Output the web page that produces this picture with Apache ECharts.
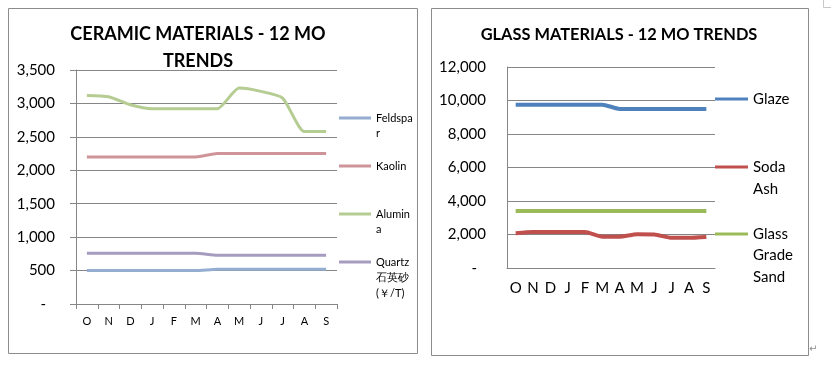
<!DOCTYPE html>
<html><head><meta charset="utf-8">
<script src="https://cdn.jsdelivr.net/npm/echarts@6/dist/echarts.min.js"></script>
<style>html,body{margin:0;padding:0;background:#fff}#c{width:831px;height:371px}</style>
</head><body><div id="c"></div>
<script>
const months = ['O','N','D','J','F','M','A','M','J','J','A','S'];
const ceramicTicks = [0,500,1000,1500,2000,2500,3000,3500];
const glassTicks = [0,2000,4000,6000,8000,10000,12000];
const feldspar = [500,500,500,500,500,500,520,520,520,520,520,520];
const kaolin = [2200,2200,2200,2200,2200,2200,2250,2250,2250,2250,2250,2250];
const alumina = [3120,3100,2980,2920,2920,2920,2920,3230,3180,3080,2580,2580];
const quartz = [760,760,760,760,760,760,730,730,730,730,730,730];
const glaze = [9750,9750,9750,9750,9750,9750,9500,9500,9500,9500,9500,9500];
const sodaAsh = [2080,2150,2150,2150,2150,1870,1870,2010,2000,1800,1800,1850];
const glassSand = [3400,3400,3400,3400,3400,3400,3400,3400,3400,3400,3400,3400];

const FONT = 'Lato';
const AX = '#868686';
const fmt = v => v === 0 ? '{d|-}' : v.toLocaleString('en-US');

function yAxis(idx, ticks, tickShow) {
  return {
    type: 'value', gridIndex: idx, min: ticks[0], max: ticks[ticks.length-1], interval: ticks[1]-ticks[0],
    axisLine: {show: true, lineStyle: {color: AX, width: 1}},
    axisTick: {show: tickShow, length: 6, lineStyle: {color: AX}},
    splitLine: {show: true, lineStyle: {color: AX, width: 1}},
    axisLabel: {margin: 21, color: '#000', fontFamily: FONT, fontSize: 15, formatter: fmt,
      rich: {d: {padding: [0, 9, 0, 0], fontFamily: FONT, fontSize: 15, color: '#000'}}}
  };
}
function xAxis(idx, fs, margin, tickShow) {
  return {
    type: 'category', gridIndex: idx, data: months, boundaryGap: true,
    axisLine: {show: true, lineStyle: {color: AX, width: 1}},
    axisTick: {show: tickShow, interval: 0, length: 5, lineStyle: {color: AX}},
    axisLabel: {interval: 0, margin: margin, color: '#000', fontFamily: FONT, fontSize: fs}
  };
}
function line(name, data, color, idx, w) {
  return {type: 'line', name, data, xAxisIndex: idx, yAxisIndex: idx, showSymbol: false, symbol: 'none',
    smooth: 0.2, lineStyle: {color, width: w}, itemStyle: {color}, silent: true, animation: false};
}
// blank lines placed above the text so that the first real line sits level with the icon
function leg(name, lines, lh, left, iconY, fs, iw) {
  const n = lines.length;
  const text = Array(n - 1).fill(' ').concat(lines).join('\n');
  const h = (2 * n - 1) * lh;
  return {
    data: [name], left: left, top: iconY - h / 2, padding: 0, icon: 'rect', itemWidth: iw, itemHeight: 3,
    formatter: () => text, selectedMode: false,
    textStyle: {fontFamily: FONT, fontSize: fs, color: '#000', lineHeight: lh}
  };
}

const chart = echarts.init(document.getElementById('c'));
chart.setOption({
  animation: false,
  backgroundColor: '#fff',
  title: [
    {text: 'CERAMIC MATERIALS - 12 MO\nTRENDS', left: 193, top: 16, textAlign: 'center',
      textStyle: {fontFamily: FONT, fontWeight: 'bold', fontSize: 18, lineHeight: 27, color: '#000'}},
    {text: 'GLASS MATERIALS - 12 MO TRENDS', left: 614, top: 22, textAlign: 'center',
      textStyle: {fontFamily: FONT, fontWeight: 'bold', fontSize: 16.4, color: '#000'}}
  ],
  grid: [
    {left: 76, right: 494, top: 70, bottom: 67, outerBoundsMode: 'none'},
    {left: 507, right: 116, top: 67, bottom: 103, outerBoundsMode: 'none'}
  ],
  xAxis: [xAxis(0, 11, 12, true), xAxis(1, 15, 13, false)],
  yAxis: [yAxis(0, ceramicTicks, true), yAxis(1, glassTicks, false)],
  legend: [
    leg('Feldspar', ['Feldspa', 'r'], 15, 339, 118, 11, 32),
    leg('Kaolin', ['Kaolin'], 15, 339, 166, 11, 32),
    leg('Alumina', ['Alumin', 'a'], 15, 339, 214, 11, 32),
    leg('Quartz 石英砂 (￥/T)', ['Quartz', '石英砂', '(￥/T)'], 15.5, 339, 262, 11, 32),
    leg('Glaze', ['Glaze'], 22, 715, 99, 15, 33),
    leg('Soda Ash', ['Soda', 'Ash'], 22, 715, 167, 15, 33),
    leg('Glass Grade Sand', ['Glass', 'Grade', 'Sand'], 21.5, 715, 234, 15, 33)
  ],
  series: [
    line('Feldspar', feldspar, '#94add0', 0, 3),
    line('Kaolin', kaolin, '#cf9499', 0, 3),
    line('Alumina', alumina, '#b5cc92', 0, 3),
    line('Quartz 石英砂 (￥/T)', quartz, '#a69cbf', 0, 3),
    line('Glaze', glaze, '#4f81bd', 1, 4),
    line('Soda Ash', sodaAsh, '#c0504d', 1, 4),
    line('Glass Grade Sand', glassSand, '#9bbb59', 1, 4)
  ],
  graphic: [
    {type: 'rect', shape: {x: 8.5, y: 8.5, width: 409, height: 345}, style: {fill: 'none', stroke: '#8c8c8c', lineWidth: 1}, silent: true},
    {type: 'rect', shape: {x: 431.5, y: 8.5, width: 377, height: 347}, style: {fill: 'none', stroke: '#8c8c8c', lineWidth: 1}, silent: true},
    {type: 'polyline', shape: {points: [[823.5, 0], [823.5, 7.5], [831, 7.5]]}, style: {fill: 'none', stroke: '#c8c8c8', lineWidth: 1}, silent: true},
    {type: 'text', x: 809, y: 344, style: {text: '↵', fontSize: 10, fill: '#8c8c8c', fontFamily: 'DejaVu Sans'}, silent: true}
  ]
});
</script></body></html>
